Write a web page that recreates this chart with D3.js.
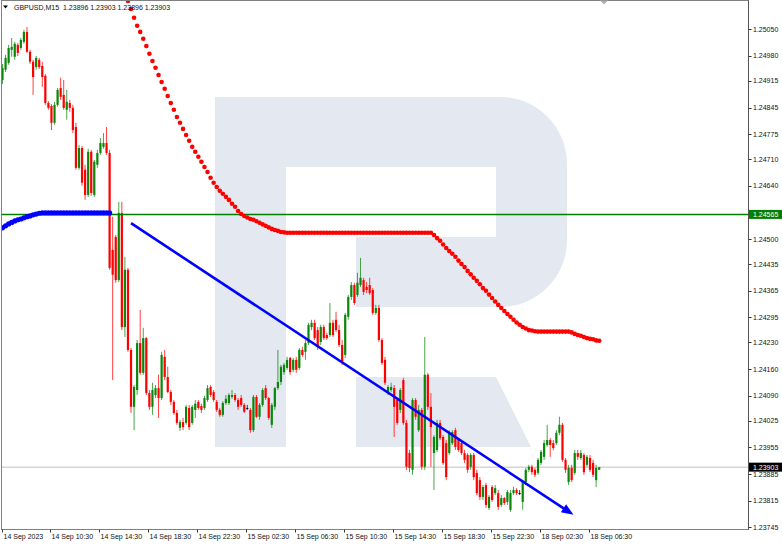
<!DOCTYPE html>
<html><head><meta charset="utf-8">
<script src="https://cdn.jsdelivr.net/npm/d3@7/dist/d3.min.js"></script>
<style>
body{margin:0;background:#fff}
svg{display:block}
text{font-family:"Liberation Sans",Arial,sans-serif;white-space:pre}
</style>
</head><body>
<svg id="c" width="782" height="545"></svg>
<script>
// ---------------- DATA ----------------
const symbolTitle = "GBPUSD,M15";
const lastBarOHLC = ["1.23896", "1.23903", "1.23896", "1.23903"];

const opens = [
1.24917,1.24944,1.24962,1.24996,1.24978,1.25009,1.25001,1.25017,1.25043,1.24991,
1.24965,1.24951,1.24970,1.24954,1.24928,1.24857,1.24849,1.24805,1.24852,1.24896,
1.24878,1.24839,1.24857,1.24844,1.24794,1.24687,1.24739,1.24682,1.24616,1.24729,
1.24616,1.24695,1.24726,1.24742,1.24752,1.24726,1.24472,1.24506,1.24393,1.24569,
1.24270,1.24420,1.24210,1.24061,1.24105,1.24228,1.24150,1.24241,1.24097,1.24061,
1.24092,1.24110,1.24084,1.24192,1.24139,1.24100,1.24074,1.24045,1.24006,1.24021,
1.24019,1.24058,1.24019,1.24053,1.24074,1.24063,1.24058,1.24079,1.24113,1.24100,
1.24074,1.24053,1.24040,1.24071,1.24071,1.24087,1.24092,1.24079,1.24084,1.24066,
1.24058,1.24053,1.24000,1.24087,1.24035,1.24066,1.24110,1.24084,1.24014,1.24061,
1.24110,1.24126,1.24152,1.24163,1.24189,1.24158,1.24184,1.24163,1.24210,1.24205,
1.24228,1.24270,1.24281,1.24262,1.24231,1.24270,1.24249,1.24249,1.24281,1.24289,
1.24262,1.24223,1.24197,1.24297,1.24349,1.24380,1.24354,1.24380,1.24393,1.24375,
1.24380,1.24367,1.24307,1.24320,1.24236,1.24184,1.24097,1.24105,1.24110,1.24079,
1.24053,1.24131,1.24019,1.23940,1.23896,1.24079,1.24000,1.24053,1.23904,1.24145,
1.24061,1.23940,1.23948,1.24019,1.23982,1.23966,1.23940,1.23966,1.24000,1.23974,
1.23966,1.23940,1.23935,1.23904,1.23935,1.23888,1.23869,1.23825,1.23856,1.23796,
1.23851,1.23835,1.23835,1.23804,1.23822,1.23812,1.23791,1.23835,1.23843,1.23835,
1.23812,1.23864,1.23896,1.23904,1.23896,1.23888,1.23914,1.23930,1.23961,1.23974,
1.23966,1.23966,1.23993,1.24014,1.23922,1.23864,1.23901,1.23888,1.23940,1.23927,
1.23935,1.23909,1.23927,1.23914,1.23869,1.23896];

const highs = [
1.24959,1.24983,1.25009,1.25027,1.25017,1.25014,1.25027,1.25048,1.25056,1.24996,
1.24970,1.24980,1.24975,1.24965,1.24933,1.24862,1.24854,1.24860,1.24896,1.24923,
1.24917,1.24891,1.24865,1.24852,1.24805,1.24747,1.24744,1.24695,1.24737,1.24734,
1.24708,1.24734,1.24765,1.24778,1.24794,1.24734,1.24559,1.24511,1.24598,1.24598,
1.24454,1.24425,1.24215,1.24118,1.24236,1.24315,1.24268,1.24244,1.24105,1.24124,
1.24118,1.24145,1.24205,1.24210,1.24166,1.24105,1.24079,1.24053,1.24027,1.24032,
1.24066,1.24066,1.24066,1.24079,1.24079,1.24069,1.24090,1.24118,1.24118,1.24105,
1.24079,1.24058,1.24076,1.24092,1.24097,1.24105,1.24097,1.24084,1.24092,1.24071,
1.24066,1.24058,1.24092,1.24092,1.24071,1.24110,1.24118,1.24087,1.24071,1.24113,
1.24210,1.24171,1.24176,1.24192,1.24192,1.24189,1.24192,1.24215,1.24218,1.24236,
1.24281,1.24289,1.24289,1.24270,1.24276,1.24276,1.24255,1.24333,1.24289,1.24310,
1.24276,1.24236,1.24307,1.24354,1.24388,1.24386,1.24412,1.24451,1.24399,1.24388,
1.24399,1.24372,1.24328,1.24328,1.24241,1.24192,1.24118,1.24124,1.24118,1.24084,
1.24110,1.24137,1.24027,1.23948,1.24084,1.24084,1.24066,1.24058,1.24244,1.24150,
1.24097,1.23987,1.24027,1.24027,1.23987,1.23974,1.24000,1.24000,1.24006,1.23979,
1.23974,1.23948,1.23940,1.23940,1.23940,1.23896,1.23877,1.23856,1.23862,1.23830,
1.23856,1.23856,1.23843,1.23830,1.23825,1.23843,1.23843,1.23851,1.23848,1.23843,
1.23869,1.23901,1.23909,1.23909,1.23901,1.23927,1.23948,1.23974,1.24014,1.23979,
1.23974,1.24000,1.24035,1.24019,1.23927,1.23909,1.23909,1.23948,1.23948,1.23948,
1.23940,1.23935,1.23935,1.23922,1.23909,1.23903];

const lows = [
1.24907,1.24938,1.24957,1.24978,1.24970,1.24980,1.24996,1.25012,1.24988,1.24959,
1.24878,1.24944,1.24946,1.24899,1.24852,1.24839,1.24786,1.24800,1.24847,1.24865,
1.24839,1.24813,1.24834,1.24778,1.24682,1.24682,1.24640,1.24603,1.24611,1.24614,
1.24611,1.24687,1.24721,1.24737,1.24721,1.24420,1.24131,1.24386,1.24388,1.24262,
1.24244,1.24205,1.24045,1.24000,1.24092,1.24145,1.24145,1.24092,1.24053,1.24040,
1.24084,1.24032,1.24079,1.24131,1.24097,1.24066,1.24040,1.24014,1.23998,1.24000,
1.24014,1.24000,1.24014,1.24032,1.24053,1.24045,1.24053,1.24074,1.24087,1.24074,
1.24048,1.24035,1.24035,1.24066,1.24066,1.24082,1.24074,1.24053,1.24061,1.24045,
1.24053,1.23993,1.23995,1.24032,1.24027,1.24061,1.24079,1.24027,1.24006,1.24053,
1.24105,1.24118,1.24145,1.24158,1.24145,1.24152,1.24150,1.24158,1.24192,1.24184,
1.24223,1.24262,1.24236,1.24210,1.24223,1.24236,1.24236,1.24244,1.24244,1.24257,
1.24218,1.24171,1.24189,1.24289,1.24341,1.24328,1.24349,1.24375,1.24354,1.24359,
1.24354,1.24302,1.24302,1.24231,1.24171,1.24118,1.24092,1.24100,1.23982,1.24014,
1.24045,1.24014,1.23896,1.23890,1.23883,1.24027,1.23995,1.23896,1.23896,1.24053,
1.23904,1.23843,1.23943,1.23974,1.23909,1.23869,1.23935,1.23961,1.23948,1.23943,
1.23935,1.23914,1.23888,1.23896,1.23869,1.23830,1.23817,1.23817,1.23796,1.23791,
1.23812,1.23830,1.23791,1.23799,1.23804,1.23804,1.23786,1.23830,1.23830,1.23830,
1.23791,1.23856,1.23890,1.23883,1.23877,1.23883,1.23909,1.23922,1.23956,1.23930,
1.23948,1.23961,1.23987,1.23917,1.23888,1.23856,1.23864,1.23883,1.23922,1.23922,
1.23883,1.23904,1.23890,1.23877,1.23851,1.23896];

const closes = [
1.24949,1.24975,1.25001,1.25004,1.25012,1.24988,1.25022,1.25043,1.24991,1.24965,
1.24925,1.24975,1.24951,1.24925,1.24857,1.24844,1.24805,1.24852,1.24891,1.24873,
1.24844,1.24860,1.24844,1.24786,1.24687,1.24739,1.24648,1.24616,1.24729,1.24621,
1.24703,1.24726,1.24752,1.24752,1.24726,1.24425,1.24407,1.24393,1.24569,1.24270,
1.24420,1.24210,1.24061,1.24113,1.24228,1.24150,1.24241,1.24097,1.24061,1.24105,
1.24110,1.24084,1.24197,1.24139,1.24100,1.24074,1.24045,1.24019,1.24021,1.24008,
1.24061,1.24008,1.24061,1.24069,1.24058,1.24053,1.24084,1.24110,1.24092,1.24079,
1.24053,1.24040,1.24071,1.24082,1.24092,1.24092,1.24079,1.24061,1.24066,1.24048,
1.24058,1.24000,1.24087,1.24035,1.24066,1.24105,1.24084,1.24032,1.24066,1.24110,
1.24126,1.24166,1.24171,1.24184,1.24152,1.24184,1.24158,1.24210,1.24197,1.24228,
1.24276,1.24281,1.24241,1.24218,1.24270,1.24241,1.24241,1.24281,1.24249,1.24262,
1.24223,1.24179,1.24302,1.24349,1.24380,1.24333,1.24386,1.24399,1.24362,1.24367,
1.24359,1.24307,1.24320,1.24236,1.24176,1.24124,1.24113,1.24113,1.24061,1.24019,
1.24105,1.24019,1.23904,1.23901,1.24079,1.24035,1.24053,1.23904,1.24145,1.24061,
1.24008,1.23982,1.24019,1.23979,1.23914,1.23877,1.23993,1.23995,1.23956,1.23948,
1.23940,1.23922,1.23896,1.23935,1.23877,1.23835,1.23825,1.23851,1.23804,1.23825,
1.23817,1.23848,1.23799,1.23822,1.23809,1.23838,1.23835,1.23843,1.23835,1.23835,
1.23864,1.23896,1.23904,1.23890,1.23883,1.23922,1.23943,1.23966,1.23974,1.23961,
1.23953,1.23993,1.24014,1.23922,1.23896,1.23901,1.23869,1.23940,1.23930,1.23940,
1.23890,1.23930,1.23896,1.23883,1.23901,1.23903];

// red dotted indicator (starts at bar 41)
const redDotsStart = 41;
const redDots = [
1.25124,1.25103,1.25080,1.25059,1.25043,1.25025,1.25006,1.24986,1.24967,1.24949,
1.24930,1.24912,1.24894,1.24875,1.24857,1.24839,1.24820,1.24805,1.24789,1.24773,
1.24758,1.24742,1.24729,1.24716,1.24703,1.24689,1.24676,1.24661,1.24648,1.24637,
1.24627,1.24619,1.24611,1.24603,1.24593,1.24585,1.24574,1.24566,1.24561,1.24557,
1.24553,1.24551,1.24547,1.24543,1.24539,1.24535,1.24531,1.24527,1.24524,1.24522,
1.24519,1.24518,
1.24517,1.24517,1.24517,1.24517,1.24517,1.24517,1.24517,1.24517,1.24517,1.24517,
1.24517,1.24517,1.24517,1.24517,1.24517,1.24517,1.24517,1.24517,1.24517,1.24517,
1.24517,1.24517,1.24517,1.24517,1.24517,1.24517,1.24517,1.24517,1.24517,1.24517,
1.24517,1.24517,1.24517,1.24517,1.24517,1.24517,1.24517,1.24517,1.24517,1.24517,
1.24517,1.24517,1.24517,1.24517,1.24517,1.24517,1.24517,1.24517,
1.24511,1.24503,1.24496,1.24486,1.24477,1.24469,1.24462,1.24454,1.24444,1.24435,
1.24427,1.24417,1.24408,1.24399,1.24391,1.24382,1.24372,1.24365,1.24355,1.24346,
1.24337,1.24328,1.24320,1.24312,1.24304,1.24297,1.24289,1.24282,1.24276,1.24270,
1.24266,1.24262,1.24261,1.24259,
1.24258,1.24258,1.24258,1.24258,1.24258,1.24258,1.24258,1.24258,1.24258,1.24258,1.24258,
1.24256,1.24252,1.24249,1.24247,1.24244,1.24241,1.24239,1.24238,1.24235,1.24234];

// blue dotted indicator (starts at bar 0)
const blueDotsStart = 0;
const blueDots = [
1.24530,1.24535,1.24540,1.24544,1.24548,1.24551,1.24553,1.24556,1.24559,1.24561,
1.24564,1.24566,1.24568,1.24569,1.24569,1.24569,1.24569,1.24569,1.24569,1.24569,
1.24569,1.24569,1.24569,1.24569,1.24569,1.24569,1.24569,1.24569,1.24569,1.24569,
1.24569,1.24569,1.24569,1.24569,1.24569,1.24569];

const levelPrice = 1.24565;      // green horizontal level
const bidPrice = 1.23903;        // current price line
const trendBars = [42, 186.6];   // trend line (bar index)
const trendPrices = [1.24542, 1.23778];

// axis tick values (the 1.24570 tick sits under the green level tag, so its text is hidden there)
const priceTicks = [1.25050,1.24980,1.24915,1.24845,1.24775,1.24710,1.24640,1.24570,1.24500,
  1.24435,1.24365,1.24295,1.24230,1.24160,1.24090,1.24025,1.23955,1.23885,1.23815,1.23745];
const timeTickBars = [0,16,32,48,64,80,96,112,128,144,160,176,192];
const timeTickLabels = ["14 Sep 2023","14 Sep 10:30","14 Sep 14:30","14 Sep 18:30","14 Sep 22:30",
  "15 Sep 02:30","15 Sep 06:30","15 Sep 10:30","15 Sep 14:30","15 Sep 18:30","15 Sep 22:30",
  "18 Sep 02:30","18 Sep 06:30"];

// ---------------- CHART ----------------
const svg = d3.select("#c");
const P = {left: 1.5, top: 0.5, right: 748.5, bottom: 529.5};
const bull = "#0a870a", bear = "#ff0000", doji = "#000000";

const x = d3.scaleLinear().domain([0, closes.length - 1]).range([2.5, 599.2]);
const y = d3.scaleLinear().domain([1.23741, 1.25124]).range([529, 1]);

svg.append("rect").attr("width", 782).attr("height", 545).attr("fill", "#fff");

svg.append("clipPath").attr("id", "plotclip").append("rect")
  .attr("x", P.left).attr("y", P.top).attr("width", P.right - P.left).attr("height", P.bottom - P.top);

const plot = svg.append("g").attr("clip-path", "url(#plotclip)");

// watermark logo (decorative), drawn in its own unit box
const logo = plot.append("g").attr("transform", "translate(215,97)").attr("fill", "#e3e8f1");
logo.append("path").attr("d", "M0,0 H71 V350 H0 Z");
logo.append("path").attr("d", "M71,0 H285 A67,67 0 0 1 352,67 V143 A67,67 0 0 1 285,210 H141 V140 H281 V70 H71 Z");
logo.append("path").attr("d", "M141,280 H281 L316,350 H141 Z");

// bid line
plot.append("line").attr("x1", P.left).attr("x2", P.right)
  .attr("y1", y(bidPrice)).attr("y2", y(bidPrice)).attr("stroke", "#c0c0c0").attr("stroke-width", 1);

// candles
const bars = d3.range(closes.length).map(i => ({i, o: opens[i], h: highs[i], l: lows[i], c: closes[i]}));
const col = d => d.c > d.o ? bull : (d.c < d.o ? bear : doji);
plot.append("g").selectAll("line").data(bars).join("line")
  .attr("x1", d => x(d.i)).attr("x2", d => x(d.i))
  .attr("y1", d => y(d.h)).attr("y2", d => y(d.l))
  .attr("stroke", col).attr("stroke-width", 1).attr("stroke-opacity", 0.75);
plot.append("g").selectAll("rect").data(bars).join("rect")
  .attr("x", d => x(d.i) - 1.1).attr("width", 2.2)
  .attr("y", d => y(Math.max(d.o, d.c)))
  .attr("height", d => Math.max(0.9, Math.abs(y(d.o) - y(d.c))))
  .attr("fill", col);

// green level line
plot.append("line").attr("x1", P.left).attr("x2", P.right)
  .attr("y1", y(levelPrice)).attr("y2", y(levelPrice)).attr("stroke", "#008000").attr("stroke-width", 1.5);

// dotted indicators
plot.append("g").selectAll("circle").data(blueDots).join("circle")
  .attr("cx", (v, k) => x(blueDotsStart + k)).attr("cy", v => y(v)).attr("r", 2.6).attr("fill", "#0000ff");
plot.append("g").selectAll("circle").data(redDots).join("circle")
  .attr("cx", (v, k) => x(redDotsStart + k)).attr("cy", v => y(v)).attr("r", 2.3).attr("fill", "#ff0000");

// trend line with arrow
const tx0 = x(trendBars[0]), ty0 = y(trendPrices[0]), tx1 = x(trendBars[1]), ty1 = y(trendPrices[1]);
const ang = Math.atan2(ty1 - ty0, tx1 - tx0), aL = 12, aW = 4.8;
const bx = tx1 - aL * Math.cos(ang), by = ty1 - aL * Math.sin(ang);
plot.append("line").attr("x1", tx0).attr("y1", ty0).attr("x2", bx + 2 * Math.cos(ang)).attr("y2", by + 2 * Math.sin(ang))
  .attr("stroke", "#0000ff").attr("stroke-width", 2.6);
plot.append("path").attr("fill", "#0000ff")
  .attr("d", `M${tx1},${ty1} L${bx - aW * Math.sin(ang)},${by + aW * Math.cos(ang)} L${bx + aW * Math.sin(ang)},${by - aW * Math.cos(ang)} Z`);

// frame
svg.append("rect").attr("x", P.left).attr("y", P.top).attr("width", P.right - P.left).attr("height", P.bottom - P.top)
  .attr("fill", "none").attr("stroke", "#808080").attr("stroke-width", 1);
svg.append("line").attr("x1", P.right).attr("x2", P.right).attr("y1", P.top).attr("y2", P.bottom)
  .attr("stroke", "#555").attr("stroke-width", 1);

// chart shift marker
svg.append("path").attr("d", "M600,0.5 L608,0.5 L604,4.5 Z").attr("fill", "#b0b0b0");

// price tags (level and bid)
const tags = [{v: levelPrice, bg: "#008000"}, {v: bidPrice, bg: "#000000"}];

// right price axis
const ya = svg.append("g");
priceTicks.forEach(v => {
  ya.append("line").attr("x1", P.right).attr("x2", P.right + 3).attr("y1", Math.round(y(v)) + 0.5).attr("y2", Math.round(y(v)) + 0.5)
    .attr("stroke", "#333");
  const hidden = tags.some(t => Math.abs(y(t.v) - y(v)) < 3);
  if (!hidden) {
    ya.append("text").attr("x", 753).attr("y", y(v) + 2.5).attr("font-size", 7).attr("fill", "#111").text(v.toFixed(5));
  }
});
tags.forEach(t => {
  const g = svg.append("g");
  g.append("rect").attr("x", 749).attr("y", y(t.v) - 4.5).attr("width", 33).attr("height", 9).attr("fill", t.bg);
  g.append("text").attr("x", 753).attr("y", y(t.v) + 2.5).attr("font-size", 7).attr("fill", "#fff").text(t.v.toFixed(5));
});

// bottom time axis
const xa = svg.append("g");
timeTickBars.forEach((b, k) => {
  const tx = Math.round(x(b)) - 0.5;
  xa.append("line").attr("x1", tx).attr("x2", tx).attr("y1", P.bottom).attr("y2", P.bottom + 3).attr("stroke", "#333");
  xa.append("text").attr("x", tx + 1).attr("y", 539).attr("font-size", 7).attr("fill", "#111").text(timeTickLabels[k]);
});

// header
svg.append("path").attr("d", "M3,5.5 L8,5.5 L5.5,8.5 Z").attr("fill", "#000");
svg.append("text").attr("x", 14).attr("y", 10).attr("font-size", 7).attr("fill", "#111")
  .text(symbolTitle + "  " + lastBarOHLC.join(" "));
</script>
</body></html>
